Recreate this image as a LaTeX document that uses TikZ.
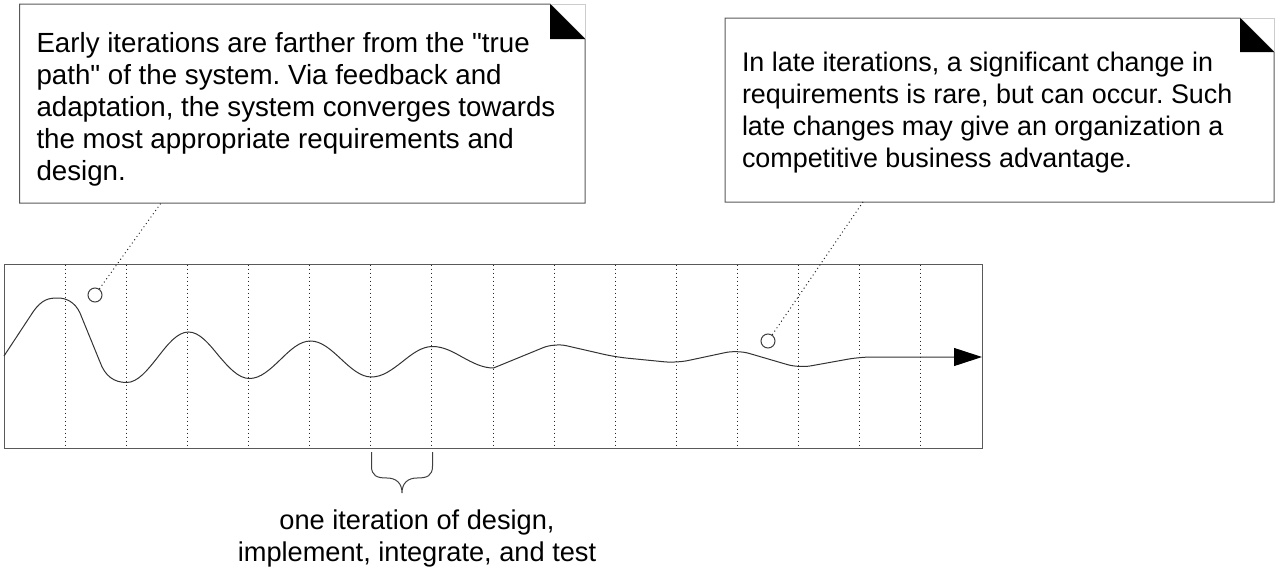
\documentclass[tikz,border=0pt]{standalone}
\usepackage{fontspec}
\setmainfont{Liberation Sans}[Ligatures=TeXOff]
\usetikzlibrary{arrows.meta}
\frenchspacing

\begin{document}
\begin{tikzpicture}[
  x=0.5pt, y=-0.5pt,
  line width=0.5pt,
  font=\fontsize{13.6}{16}\selectfont,
  frame/.style={draw=black!65},
  gridline/.style={draw=black!85, dash pattern=on 0.5pt off 1.5pt},
  leader/.style={draw=black!85, dash pattern=on 0.5pt off 1.5pt},
  wave/.style={draw=black!80, -{Triangle[length=14pt, width=9pt, color=black]}},
  marker/.style={circle, draw=black!75, fill=white, minimum size=7pt, inner sep=0pt},
  notetext/.style={align=left, inner sep=0pt, anchor=north west},
  bracket/.style={draw=black!75}
]
\useasboundingbox (0,0) rectangle (1276,578);

% Timeline frame and iteration columns
\draw[frame] (4,264.5) rectangle (982,448);
\foreach \i in {1,...,15}
  \draw[gridline] ({4+61.125*\i},264.5) -- ({4+61.125*\i},448);

% Converging path of the system
\draw[wave] (4,356) -- (33,312) .. controls (42,299) and (49,298) .. (58,298)
  .. controls (66,298) and (75,302) .. (80,313) -- (100,362)
  .. controls (105,376) and (114,382.5) .. (126.5,382.5)
  cos (157.5,357.5) sin (188.5,332)
  cos (218.5,355.5) sin (249.5,378.5) cos (280,360) sin (310.5,341)
  cos (341,359) sin (371.5,377) cos (402,362) sin (432.5,346.5)
  cos (463,357.5) sin (493.5,368)
  [rounded corners=6] -- (554.5,343) -- (615.5,357) -- (676.5,363)
  -- (737.5,350) -- (799,368) -- (860,357) [sharp corners] -- (982,357);

% Markers
\node[marker] (earlydot) at (95,295) {};
\node[marker] (latedot) at (768,341) {};

% Early note
\draw[frame] (19.5,4) -- (550,4) -- (585,39) -- (585,203) -- (19.5,203) -- cycle;
\draw[black!20] (550,4) -- (585,4) -- (585,39);
\fill[black] (550,4) -- (550,39) -- (585,39) -- cycle;
\node[notetext, font=\fontsize{13.85}{16}\selectfont] (early) at (36,31.5) {Early iterations are farther from the "true\\
path" of the system. Via feedback and\\
adaptation, the system converges towards\\
the most appropriate requirements and\\
design.};
\coordinate (earlyfoot) at (161,203);

% Late note
\draw[frame] (725,18) -- (1240,18) -- (1274,52) -- (1274,202) -- (725,202) -- cycle;
\draw[black!20] (1240,18) -- (1274,18) -- (1274,52);
\fill[black] (1240,18) -- (1240,52) -- (1274,52) -- cycle;
\node[notetext, font=\fontsize{13.45}{16}\selectfont] (late) at (741.5,51.5) {In late iterations, a significant change in\\
requirements is rare, but can occur. Such\\
late changes may give an organization a\\
competitive business advantage.};
\coordinate (latefoot) at (863,202);

% Leaders
\draw[leader] (earlydot) -- (earlyfoot);
\draw[leader] (latedot) -- (latefoot);

% One iteration
\draw[bracket] (371.5,452) -- (371.5,466) .. controls (371.5,476) and (377,478) .. (387,478)
  .. controls (396,478) and (402,483) .. (402,493)
  .. controls (402,483) and (408,478) .. (417,478)
  .. controls (427,478) and (432.5,476) .. (432.5,466) -- (432.5,452);
\node[align=center, inner sep=0pt, anchor=north] (iteration) at (417,509)
  {one iteration of design,\\ implement, integrate, and test};

\end{tikzpicture}
\end{document}
